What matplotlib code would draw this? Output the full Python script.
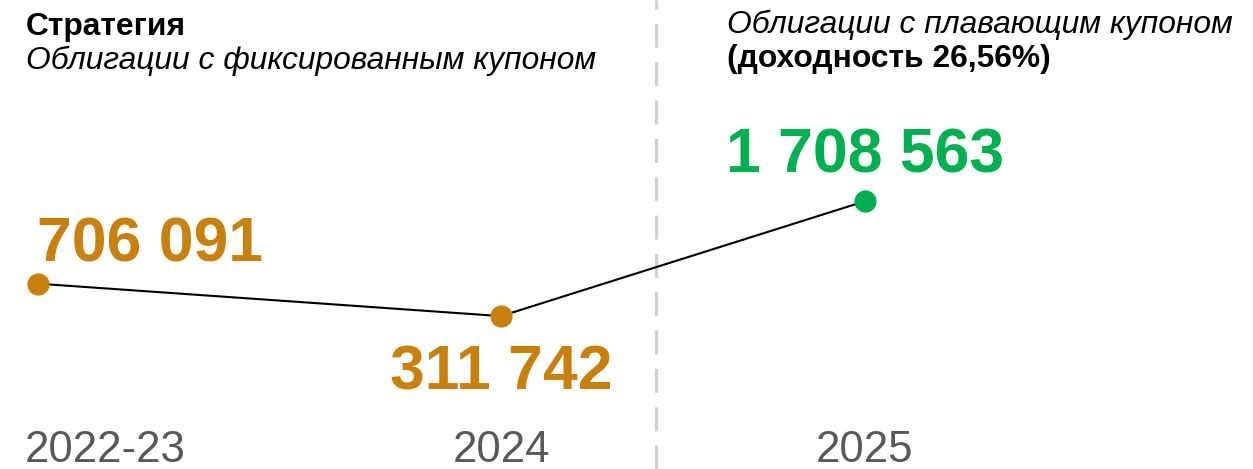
import matplotlib
matplotlib.use("Agg")
import matplotlib.pyplot as plt
from matplotlib.transforms import blended_transform_factory, offset_copy

plt.rcParams['font.family'] = ['Liberation Sans', 'DejaVu Sans']

## DATA
periods = ['2022-23', '2024', '2025']
values = [706091, 311742, 1708563]
value_labels = ['706 091', '311 742', '1 708 563']

## layout (uneven spacing as in the original)
x_slots = [0, 1, 1.786]
divider_x = 1.335

orange = '#C8800E'
green = '#00B050'
grey_txt = '#595959'

fig = plt.figure(figsize=(12.53, 4.69), dpi=100)
ax = fig.add_axes([0, 0, 1, 1])
ax.set_xlim(-0.082, 2.624)
ax.set_ylim(-1547169, 4155167)
ax.axis('off')

# line + markers
ax.plot(x_slots, values, color='black', lw=1.5, zorder=2)
mcolors = [orange, orange, green]
for x, v, c in zip(x_slots, values, mcolors):
    ax.plot(x, v, 'o', ms=15, color=c, mec=c, zorder=3)

# divider
ax.axvline(divider_x, color='#D0D0D0', lw=2.3, dashes=(7.5, 4.5), zorder=1)

# value labels
ax.annotate(value_labels[0], (x_slots[0], values[0]), xytext=(-1, 16),
            textcoords='offset points', ha='left', va='baseline',
            fontsize=45, fontweight='bold', color=orange)
ax.annotate(value_labels[1], (x_slots[1], values[1]), xytext=(0, -20),
            textcoords='offset points', ha='center', va='top',
            fontsize=45, fontweight='bold', color=orange)
ax.annotate(value_labels[2], (x_slots[2], values[2]), xytext=(0, 21),
            textcoords='offset points', ha='center', va='baseline',
            fontsize=45, fontweight='bold', color=green)

# period labels along the bottom
trans = blended_transform_factory(ax.transData, ax.transAxes)
ax.text(x_slots[0], 0.014, periods[0], transform=offset_copy(trans, fig=fig, x=-9.5, units='points'),
        ha='left', va='baseline', fontsize=31.5, color=grey_txt)
for x, p in zip(x_slots[1:], periods[1:]):
    ax.text(x, 0.014, p, transform=trans, ha='center', va='baseline',
            fontsize=31.5, color=grey_txt)

# headers
hsize = 22.9
fig.text(26 / 1253, 1 - 35 / 469, 'Стратегия', fontsize=hsize, fontweight='bold', color='black')
fig.text(26 / 1253, 1 - 69 / 469, 'Облигации с фиксированным купоном', fontsize=hsize,
         style='italic', color='black')
fig.text(727 / 1253, 1 - 33 / 469, 'Облигации с плавающим купоном', fontsize=hsize,
         style='italic', color='black')
fig.text(727 / 1253, 1 - 67 / 469, '(доходность 26,56%)', fontsize=hsize,
         fontweight='bold', color='black')

plt.savefig('out.png', dpi=100)
